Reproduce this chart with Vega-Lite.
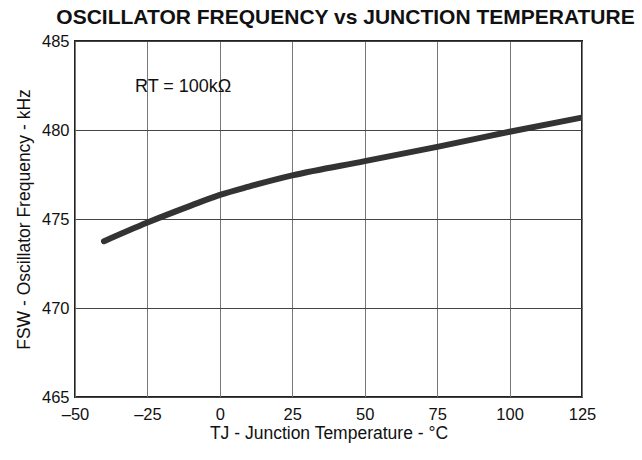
{
  "$schema": "https://vega.github.io/schema/vega-lite/v6.json",
  "width": 507,
  "height": 356,
  "autosize": {"type": "none"},
  "padding": {"left": 75, "top": 41, "right": 60, "bottom": 63},
  "background": "white",
  "config": {
    "font": "Liberation Sans",
    "view": {"stroke": "#222", "strokeWidth": 2},
    "axis": {"labelFont": "Liberation Sans", "titleFont": "Liberation Sans", "labelColor": "#111", "titleColor": "#111", "labelFontSize": 16.5, "titleFontSize": 17.5, "titleFontWeight": "normal", "domain": false, "ticks": false}
  },
  "title": {"text": "OSCILLATOR FREQUENCY vs JUNCTION TEMPERATURE", "font": "Liberation Sans", "fontSize": 21, "fontWeight": "bold", "color": "#111", "anchor": "middle", "frame": "group", "dx": 17, "offset": 5},
  "datasets": {
    "curve": [
      {"t": -40, "f": 473.75},
      {"t": -25, "f": 474.8},
      {"t": -10, "f": 475.75},
      {"t": 0, "f": 476.35},
      {"t": 10, "f": 476.82},
      {"t": 25, "f": 477.45},
      {"t": 50, "f": 478.25},
      {"t": 75, "f": 479.05},
      {"t": 100, "f": 479.9},
      {"t": 125, "f": 480.7}
    ],
    "notes": [
      {"t": -29.3, "f": 482.4, "label": "RT = 100kΩ"}
    ]
  },
  "layer": [
    {
      "data": {"name": "curve"},
      "mark": {"type": "line", "color": "#333", "strokeWidth": 6, "strokeCap": "round", "interpolate": "monotone", "clip": true},
      "encoding": {
        "x": {"field": "t", "type": "quantitative", "scale": {"domain": [-50, 125], "nice": false},
          "axis": {"values": [-50, -25, 0, 25, 50, 75, 100, 125], "title": "TJ - Junction Temperature - °C", "labelFlush": false, "labelPadding": 9, "titlePadding": 2, "gridColor": "#777", "gridOpacity": 1, "labelExpr": "replace(datum.label, '−', '–')"}},
        "y": {"field": "f", "type": "quantitative", "scale": {"domain": [465, 485], "nice": false, "zero": false},
          "axis": {"values": [465, 470, 475, 480, 485], "title": "FSW - Oscillator Frequency - kHz", "labelFlush": false, "labelPadding": 6, "titlePadding": 8, "gridColor": "#444", "gridOpacity": 1}}
      }
    },
    {
      "data": {"name": "notes"},
      "mark": {"type": "text", "align": "left", "baseline": "middle", "fontSize": 18, "color": "#111", "font": "Liberation Sans"},
      "encoding": {
        "x": {"field": "t", "type": "quantitative"},
        "y": {"field": "f", "type": "quantitative"},
        "text": {"field": "label"}
      }
    }
  ]
}
